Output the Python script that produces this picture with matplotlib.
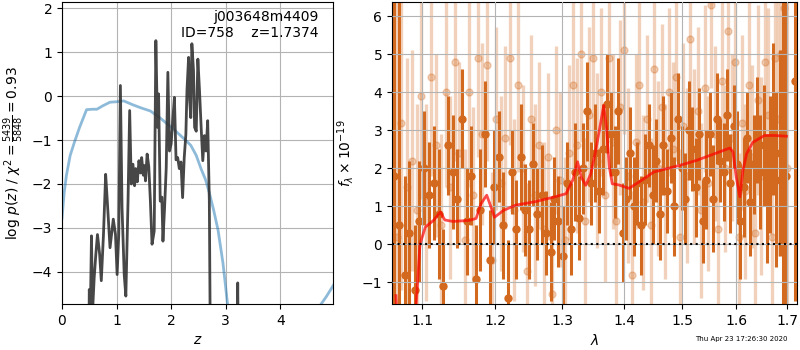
import matplotlib
matplotlib.use("Agg")
import matplotlib.pyplot as plt
from matplotlib.ticker import NullLocator

# --- left panel: log p(z) and chi2 curve ---
pz_z = [0.49, 0.50, 0.52, 0.54, 0.56, 0.59, 0.62, 0.65, 0.69, 0.72,
        0.76, 0.80, 0.83, 0.88, 0.94, 0.98, 1.01, 1.04, 1.07, 1.10,
        1.14, 1.17, 1.21, 1.24, 1.27, 1.30, 1.33, 1.35, 1.38, 1.41,
        1.44, 1.46, 1.49, 1.51, 1.53, 1.56, 1.59, 1.62, 1.65, 1.69,
        1.72, 1.75, 1.77, 1.80, 1.83, 1.85, 1.88, 1.91, 1.94, 1.97,
        2.00, 2.03, 2.06, 2.09, 2.12, 2.15, 2.18, 2.21, 2.24, 2.27,
        2.29, 2.32, 2.34, 2.36, 2.38, 2.41, 2.43, 2.46, 2.49, 2.52,
        2.55, 2.58, 2.61, 2.64, 2.67, 2.70, 2.72, 2.80, 3.0, 3.20,
        3.22, 3.24, 3.4, 4.0, 5.0]
pz_logp = [-6, -4.40, -4.9, -3.18, -4.9, -4.13, -3.6, -3.15, -3.6, -4.2,
           -3.15, -1.78, -2.39, -3.45, -2.8, -3.15, -4.06, -3.15, 0.24, -2.54,
           -4.06, -4.55, -2.39, -0.33, -2.0, -1.55, -2.04, -1.65, -1.95, -1.47,
           -1.75, -1.40, -1.80, -1.58, -1.93, -1.32, -1.6, -2.39, -3.37, -3.07,
           1.26, -0.71, 0.05, -2.39, -2.3, -3.3, -2.54, -1.63, 0.54, -1.25,
           -1.09, -0.55, -0.03, -1.45, -1.4, -1.65, -1.5, -2.31, -1.4, -0.87,
           0.12, 0.88, -0.1, -0.49, 1.19, 0.58, -0.71, -0.8, 0.84, 0.12,
           -0.71, -1.47, -0.9, -1.25, -0.56, -2.39, -6, -7, -7, -7,
           -4.25, -7, -7, -7, -7]

chi_z = [0.0, 0.04, 0.08, 0.15, 0.23, 0.32, 0.45, 0.55, 0.64, 0.75,
         0.88, 1.0, 1.13, 1.3, 1.45, 1.62, 1.8, 2.06, 2.2, 2.36,
         2.46, 2.55, 2.63, 2.70, 2.78, 2.86, 2.95, 3.04, 3.2, 4.5,
         4.71, 4.85, 5.0]
chi_y = [-2.78, -2.2, -1.81, -1.35, -1.04, -0.72, -0.31, -0.30, -0.30, -0.22,
         -0.14, -0.13, -0.11, -0.2, -0.27, -0.34, -0.5, -0.77, -0.93, -1.12,
         -1.35, -1.66, -1.9, -2.2, -2.6, -3.05, -3.8, -4.8, -6, -6,
         -4.8, -4.55, -4.25]

# --- right panel: spectrum, two orientations + model ---
dark_wave = [1.064, 1.070, 1.077, 1.083, 1.090, 1.096, 1.102, 1.109, 1.115, 1.122,
             1.128, 1.134, 1.141, 1.147, 1.154, 1.160, 1.166, 1.173, 1.179, 1.186,
             1.192, 1.198, 1.205, 1.211, 1.218, 1.224, 1.230, 1.237, 1.243, 1.250,
             1.256, 1.262, 1.269, 1.275, 1.282, 1.288, 1.294, 1.301, 1.307, 1.314,
             1.320, 1.326, 1.333, 1.339, 1.346, 1.352, 1.358, 1.365, 1.371, 1.378,
             1.384, 1.390, 1.397, 1.403, 1.410, 1.416, 1.422, 1.429, 1.435, 1.442,
             1.448, 1.454, 1.461, 1.467, 1.474, 1.480, 1.486, 1.493, 1.499, 1.506,
             1.512, 1.518, 1.525, 1.531, 1.538, 1.544, 1.550, 1.557, 1.563, 1.570,
             1.576, 1.582, 1.589, 1.595, 1.602, 1.608, 1.614, 1.621, 1.627, 1.634,
             1.640, 1.646, 1.653, 1.659, 1.666, 1.672, 1.678, 1.685, 1.691, 1.698,
             1.716]
dark_flux = [1.8, 0.5, -0.8, 0.3, -1.2, 0.6, 2.0, 1.3, 1.6, 0.8,
             -1.1, 2.6, 1.9, 1.2, 3.3, 0.6, 1.8, -0.9, 0.9, 2.9,
             -0.4, 1.5, 2.3, 0.5, -1.4, 1.9, 0.4, 2.3, 0.9, 0.4,
             2.1, 0.8, 1.3, 0.3, -0.2, 1.2, 0.6, -0.3, 1.6, 0.4,
             1.9, 0.7, 2.0, 3.5, 1.6, 2.4, 1.4, 2.5, 3.7, 2.9,
             1.9, 3.5, 0.3, 1.2, 2.4, 1.0, 1.6, 0.5, 1.7, 2.6,
             1.3, 2.2, 0.8, 2.6, 1.4, 2.8, 1.0, 3.3, 2.0, 1.2,
             3.0, 2.5, 1.5, 2.9, 0.6, 1.7, 2.9, 1.2, 3.3, 2.2,
             1.9, 3.4, 1.6, 3.1, 2.1, 0.6, 1.5, 2.8, 1.1, 2.1,
             3.0, 1.9, 2.6, 1.2, 2.1, 3.3, 1.7, 2.4, 3.2, 1.8,
             4.3]
dark_err = [8.0, 6.0, 2.6, 1.9, 1.7, 1.6, 1.5, 1.4, 1.5, 1.7,
            1.5, 1.3, 1.5, 1.3, 1.3, 1.4, 1.3, 1.4, 1.6, 1.4,
            1.3, 1.5, 1.2, 1.4, 1.5, 1.1, 1.3, 1.4, 1.2, 1.3,
            1.1, 1.2, 1.3, 1.1, 1.3, 1.1, 1.2, 1.3, 1.1, 1.2,
            1.3, 1.1, 1.2, 1.3, 1.1, 1.3, 1.1, 1.2, 1.3, 1.1,
            1.2, 1.4, 1.3, 1.1, 1.2, 1.3, 1.1, 1.3, 1.2, 1.1,
            1.3, 1.1, 1.2, 1.3, 1.1, 1.2, 1.3, 1.2, 1.1, 1.2,
            1.3, 1.1, 1.3, 1.2, 1.1, 1.3, 1.1, 1.4, 1.2, 1.1,
            1.3, 1.2, 1.3, 1.1, 1.4, 1.5, 1.3, 1.2, 1.4, 1.3,
            1.4, 1.5, 1.6, 1.7, 1.8, 2.0, 2.3, 2.7, 5.0, 6.0,
            5.8]

light_wave = [1.067, 1.073, 1.080, 1.086, 1.093, 1.099, 1.105, 1.112, 1.118, 1.125,
              1.131, 1.137, 1.144, 1.150, 1.157, 1.163, 1.169, 1.176, 1.182, 1.189,
              1.195, 1.201, 1.208, 1.214, 1.221, 1.227, 1.233, 1.240, 1.246, 1.253,
              1.259, 1.265, 1.272, 1.278, 1.285, 1.291, 1.297, 1.304, 1.310, 1.317,
              1.323, 1.329, 1.336, 1.342, 1.349, 1.355, 1.361, 1.368, 1.374, 1.381,
              1.387, 1.393, 1.400, 1.406, 1.413, 1.419, 1.425, 1.432, 1.438, 1.445,
              1.451, 1.457, 1.464, 1.470, 1.477, 1.483, 1.489, 1.496, 1.502, 1.509,
              1.515, 1.521, 1.528, 1.534, 1.541, 1.547, 1.553, 1.560, 1.566, 1.573,
              1.579, 1.585, 1.592, 1.598, 1.605, 1.611, 1.617, 1.624, 1.630, 1.637,
              1.643, 1.649, 1.656, 1.662, 1.669, 1.675, 1.681, 1.688, 1.694, 1.700]
light_flux = [0.2, 3.2, 1.5, 2.2, 0.9, 3.9, 1.1, 4.4, 2.6, 0.5,
              4.0, 1.5, 4.8, 2.4, 0.1, 4.0, 1.3, 4.9, 2.9, 4.7,
              -0.4, 3.3, 1.6, 2.8, 4.9, 0.9, 4.2, 2.0, -0.7, 3.3,
              1.3, 2.6, 0.4, 2.3, -1.3, 3.0, 1.7, 0.1, 2.4, 4.2,
              2.6, 5.0, 0.6, 3.4, 4.9, 2.2, 4.0, 1.3, 4.9, 2.7,
              0.6, 3.6, 5.1, 1.8, -0.8, 2.7, 4.2, 1.1, 3.3, 0.5,
              4.6, 2.0, 3.6, 1.4, 4.0, 2.5, 4.4, 0.2, 3.1, 1.8,
              5.4, 2.3, 3.5, 0.9, 4.1, 1.6, 6.3, 2.9, 0.4, 4.3,
              2.0, 5.6, 2.8, 4.8, 0.2, 3.2, 1.4, 4.2, 2.3, 0.3,
              3.8, 1.8, 4.8, 3.4, 0.2, 4.9, 3.3, 5.0, 6.2, 2.0]
light_err = [7.0, 4.4, 3.4, 2.9, 2.8, 2.7, 2.6, 2.6, 2.4, 2.4,
             2.5, 2.4, 2.6, 2.4, 2.4, 2.5, 2.3, 2.6, 2.4, 2.5,
             2.3, 2.4, 2.3, 2.4, 2.3, 2.4, 2.3, 2.2, 2.3, 2.2,
             2.4, 2.2, 2.3, 2.2, 2.3, 2.2, 2.3, 2.2, 2.3, 2.2,
             2.3, 2.3, 2.2, 2.3, 2.2, 2.3, 2.2, 2.3, 2.2, 2.3,
             2.2, 2.3, 2.2, 2.3, 2.2, 2.3, 2.2, 2.3, 2.2, 2.3,
             2.2, 2.3, 2.2, 2.3, 2.2, 2.3, 2.2, 2.3, 2.2, 2.3,
             2.2, 2.3, 2.2, 2.3, 2.2, 2.3, 2.2, 2.3, 2.2, 2.3,
             2.2, 2.3, 2.2, 2.3, 2.2, 2.3, 2.3, 2.4, 2.4, 2.5,
             2.5, 2.6, 2.7, 2.8, 3.0, 3.2, 3.6, 4.2, 4.9, 5.9]

model_wave = [1.066, 1.069, 1.090, 1.092, 1.097, 1.104, 1.115, 1.124, 1.130, 1.141,
              1.164, 1.173, 1.180, 1.188, 1.1925, 1.199, 1.212, 1.230, 1.259, 1.289,
              1.306, 1.3165, 1.324, 1.330, 1.337, 1.345, 1.353, 1.360, 1.366, 1.371,
              1.375, 1.380, 1.391, 1.408, 1.429, 1.450, 1.471, 1.502, 1.527, 1.559,
              1.588, 1.594, 1.600, 1.607, 1.613, 1.620, 1.632, 1.655, 1.675, 1.699]
model_flux = [-1.35, -2.5, -2.5, -1.6, 0.0, 0.45, 0.63, 0.85, 0.64, 0.60,
              0.63, 0.68, 1.07, 1.29, 1.06, 0.71, 0.89, 1.03, 1.12, 1.25,
              1.33, 1.69, 2.17, 1.76, 1.55, 1.85, 2.46, 3.1, 3.65, 3.0,
              2.05, 1.59, 1.56, 1.47, 1.68, 1.90, 1.98, 2.1, 2.21, 2.38,
              2.53, 2.42, 1.77, 1.25, 1.95, 2.38, 2.68, 2.86, 2.86, 2.84]

wave_ticks = [1.1, 1.2, 1.3, 1.4, 1.5, 1.6, 1.7]
ORANGE = "#d2691e"

fig = plt.figure(figsize=(8, 3.5), dpi=100)

# p(z) panel
ax = fig.add_axes([0.0775, 0.1314, 0.339, 0.863])
ax.plot(chi_z, chi_y, color="C0", alpha=0.5, lw=2)
ax.plot(pz_z, pz_logp, color="0.2", alpha=0.9, lw=2)
ax.set_xlim(0, 4.97)
ax.set_ylim(-4.73, 2.14)
ax.set_xticks([0, 1, 2, 3, 4])
ax.set_xlabel(r"$z$")
ax.set_ylabel(r"log $p(z)$ / $\chi^2=\frac{5439}{5848}=0.93$")
ax.text(0.945, 0.975, "j003648m4409\nID=758    z=1.7374", ha="right", va="top",
        transform=ax.transAxes, fontsize=10)
ax.grid(color="0.7")

# spectrum panel
bx = fig.add_axes([0.49, 0.1314, 0.506, 0.863])
bx.errorbar(light_wave, light_flux, yerr=light_err, fmt="o", color=ORANGE,
            alpha=0.3, ms=5, elinewidth=2.4, zorder=1)
bx.errorbar(dark_wave, dark_flux, yerr=dark_err, fmt="o", color=ORANGE,
            ms=5, elinewidth=2.2, zorder=2)
bx.plot(model_wave, model_flux, color="red", alpha=0.7, lw=2, zorder=4)
bx.axhline(0, color="k", ls=":", lw=1.5, zorder=5)
bx.set_xscale("log")
bx.set_xticks(wave_ticks)
bx.set_xticklabels([f"{w:.1f}" for w in wave_ticks])
bx.xaxis.set_minor_locator(NullLocator())
bx.set_xlim(1.061, 1.720)
bx.set_ylim(-1.57, 6.37)
bx.set_xlabel(r"$\lambda$")
bx.set_ylabel(r"$f_\lambda\times10^{-19}$")
bx.grid(color="0.7", zorder=3)
bx.set_axisbelow(False)

fig.text(0.984, 0.031, "Thu Apr 23 17:26:30 2020", ha="right", va="center", fontsize=5)

fig.savefig("out.png", dpi=100)
